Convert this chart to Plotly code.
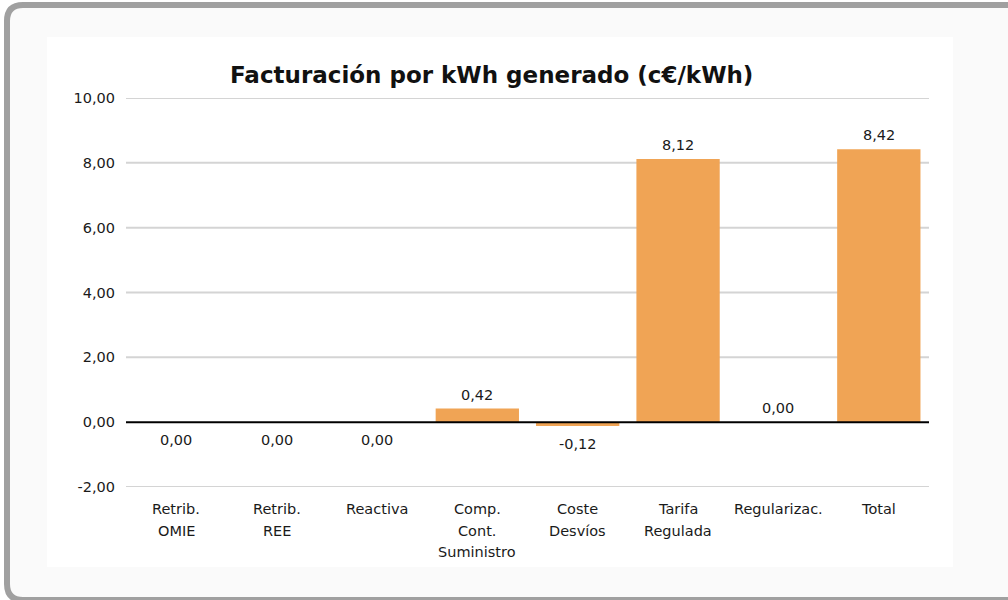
import plotly.graph_objects as go

categories = ["Retrib.<br>OMIE", "Retrib.<br>REE", "Reactiva", "Comp.<br>Cont.<br>Suministro",
              "Coste<br>Desvíos", "Tarifa<br>Regulada", "Regularizac.", "Total"]
values = [0.0, 0.0, 0.0, 0.42, -0.12, 8.12, 0.0, 8.42]
# side of the zero line where each value label sits (+1 above, -1 below)
label_side = [-1, -1, -1, 1, -1, 1, 1, 1]
y_ticks = [-2, 0, 2, 4, 6, 8, 10]

W, H = 1008, 600
L, R, T, B = 126, 929, 98, 487  # plot area in pixels

def px(x):
    return (x - L) / (R - L)

def py(y):
    return (B - y) / (B - T)

def fmt(v):
    return f"{v:.2f}".replace(".", ",")

FONT = "DejaVu Sans"
TXT = "#1a1a1a"
bar_color = "#F0A455"

fig = go.Figure()
fig.add_trace(go.Bar(
    x=list(range(len(categories))), y=values,
    marker=dict(color=bar_color, line=dict(width=0)),
    width=0.83, hoverinfo="skip",
))

annotations = []
for i, (v, s) in enumerate(zip(values, label_side)):
    annotations.append(dict(
        x=i, y=v, xref="x", yref="y", text=fmt(v), showarrow=False,
        yanchor="bottom" if s > 0 else "top", yshift=4 if s > 0 else -8,
        font=dict(family=FONT, size=14.5, color=TXT),
    ))

# category labels, one line at a time for a looser line spacing
for i, cat in enumerate(categories):
    for k, line in enumerate(cat.split("<br>")):
        annotations.append(dict(
            x=i, y=y_ticks[0], xref="x", yref="y", text=line, showarrow=False,
            xanchor="center", yanchor="top", yshift=-12 - 21.5 * k,
            font=dict(family=FONT, size=14.5, color=TXT),
        ))

annotations.append(dict(
    x=px(491), y=py(75), xref="paper", yref="paper",
    text="<b>Facturación por kWh generado (c€/kWh)</b>", showarrow=False,
    xanchor="center", yanchor="middle",
    font=dict(family=FONT, size=23, color="#111111"),
))

# outer frame: light fill plus a border open on the right (it runs off the page)
x0, y0, x1, y1, r = 7, 5, W, 600, 16
frame = (f"M {px(x1)},{py(y0)} "
         f"L {px(x0 + r)},{py(y0)} "
         f"Q {px(x0)},{py(y0)} {px(x0)},{py(y0 + r)} "
         f"L {px(x0)},{py(y1 - r)} "
         f"Q {px(x0)},{py(y1)} {px(x0 + r)},{py(y1)} "
         f"L {px(x1)},{py(y1)}")

shapes = [
    dict(type="rect", xref="paper", yref="paper",
         x0=px(x0 + 2), x1=px(W), y0=py(y1), y1=py(y0 + 2),
         fillcolor="#FAFAFA", line=dict(width=0), layer="below"),
    dict(type="path", path=frame, xref="paper", yref="paper",
         line=dict(color="#A0A0A0", width=6), layer="below"),
    dict(type="rect", xref="paper", yref="paper",
         x0=px(47), x1=px(953), y0=py(567), y1=py(37),
         fillcolor="#FFFFFF", line=dict(width=0), layer="below"),
]
# horizontal gridlines, drawn as shapes so the edge ones show too
for t in y_ticks:
    if t == 0:
        continue
    shapes.append(dict(type="line", xref="paper", yref="y", x0=0, x1=1, y0=t, y1=t,
                       line=dict(color="#D4D4D4", width=2), layer="below"))
shapes.append(dict(type="line", xref="paper", yref="y", x0=0, x1=1, y0=0, y1=0,
                   line=dict(color="#000000", width=2), layer="above"))

fig.update_layout(
    width=W, height=H,
    margin=dict(l=L, r=W - R, t=T, b=H - B),
    paper_bgcolor="#FFFFFF", plot_bgcolor="rgba(0,0,0,0)",
    showlegend=False,
    shapes=shapes, annotations=annotations,
    font=dict(family=FONT, size=14.5, color=TXT),
    xaxis=dict(
        range=[-0.5, len(categories) - 0.5], showgrid=False, zeroline=False,
        showline=False, ticks="", showticklabels=False,
    ),
    yaxis=dict(
        range=[-2, 10], tickmode="array", tickvals=y_ticks,
        ticktext=[fmt(t) for t in y_ticks],
        showgrid=False, zeroline=False,
        showline=False, ticks="", ticklabelstandoff=10,
        tickfont=dict(family=FONT, size=14.5, color=TXT),
    ),
    bargap=0.17,
)

fig.write_html("out.html", config={"displayModeBar": False})
